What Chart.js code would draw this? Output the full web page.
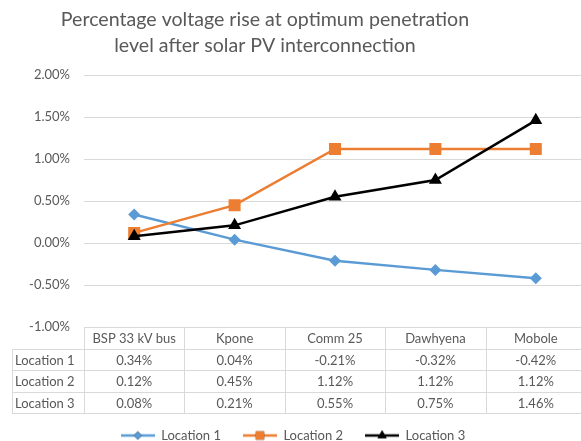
<!DOCTYPE html>
<html>
<head>
<meta charset="utf-8">
<script src="https://cdn.jsdelivr.net/npm/chart.js@4.4.0/dist/chart.umd.min.js"></script>
<style>
    html, body { margin: 0; padding: 0; background: #fff; overflow: hidden; }
    #wrap { width: 581px; height: 441px; overflow: hidden; position: relative; }
    #wrap canvas { position: absolute; left: 0; top: 0; }
</style>
</head>
<body>
<div id="wrap"><canvas id="myChart" width="600" height="452"></canvas></div>
<script>
// chart data
const titleLines = ['Percentage voltage rise at optimum penetration', 'level after solar PV interconnection'];
const locations = ['BSP 33 kV bus', 'Kpone', 'Comm 25', 'Dawhyena', 'Mobole'];
const seriesNames = ['Location 1', 'Location 2', 'Location 3'];
const location1 = [0.34, 0.04, -0.21, -0.32, -0.42];
const location2 = [0.12, 0.45, 1.12, 1.12, 1.12];
const location3 = [0.08, 0.21, 0.55, 0.75, 1.46];
const yTicks = [-1, -0.5, 0, 0.5, 1, 1.5, 2];

const textColor = '#595959';
const gridColor = '#D9D9D9';
const fontFamily = 'Lato, "Open Sans", sans-serif';
const colors = ['#5B9BD5', '#ED7D31', '#000000'];
const markers = ['rectRot', 'rect', 'triangle'];
const markerSizes = [6, 8.5, 7.5];

const pct = v => v.toFixed(2) + '%';

// title drawn by hand so it can sit left of centre like the original
const titlePlugin = {
    id: 'titleLines',
    beforeDraw(chart) {
        const ctx = chart.ctx;
        ctx.save();
        ctx.fillStyle = textColor;
        ctx.font = '19.6px ' + fontFamily;
        ctx.textAlign = 'center';
        ctx.textBaseline = 'middle';
        titleLines.forEach((line, i) => ctx.fillText(line, 265, 20 + i * 26));
        ctx.restore();
    }
};

// data table under the plot, columns follow the x scale
const tablePlugin = {
    id: 'dataTable',
    afterDraw(chart) {
        const ctx = chart.ctx;
        const x = chart.scales.x;
        const area = chart.chartArea;
        const band = (area.right - area.left) / locations.length;
        const rowH = 21.6;
        const top = area.bottom;
        const rows = [location1, location2, location3];
        const labelLeft = 12;

        ctx.save();
        ctx.strokeStyle = gridColor;
        ctx.lineWidth = 1;
        ctx.beginPath();
        // horizontal lines
        for (let r = 1; r <= rows.length + 1; r++) {
            const y = Math.round(top + r * rowH) + 0.5;
            ctx.moveTo(labelLeft, y);
            ctx.lineTo(area.right, y);
        }
        // vertical lines
        ctx.moveTo(labelLeft + 0.5, Math.round(top + rowH));
        ctx.lineTo(labelLeft + 0.5, Math.round(top + (rows.length + 1) * rowH) + 1);
        for (let c = 0; c <= locations.length; c++) {
            const vx = Math.round(area.left + c * band) + 0.5;
            ctx.moveTo(vx, Math.round(top));
            ctx.lineTo(vx, Math.round(top + (rows.length + 1) * rowH) + 1);
        }
        ctx.stroke();

        ctx.fillStyle = textColor;
        ctx.font = '13px ' + fontFamily;
        ctx.textBaseline = 'middle';
        ctx.textAlign = 'center';
        locations.forEach((name, i) => {
            ctx.fillText(name, x.getPixelForValue(i), top + rowH / 2 + 1);
        });
        rows.forEach((vals, r) => {
            const cy = top + (r + 1.5) * rowH + 1;
            ctx.textAlign = 'left';
            ctx.fillText(seriesNames[r], labelLeft + 3, cy);
            ctx.textAlign = 'center';
            vals.forEach((v, i) => ctx.fillText(pct(v), x.getPixelForValue(i), cy));
        });
        ctx.restore();
    }
};

// small line + marker picture for each legend entry
function legendIcon(i) {
    const c = document.createElement('canvas');
    c.width = 34;
    c.height = 16;
    const g = c.getContext('2d');
    g.strokeStyle = colors[i];
    g.lineWidth = 2.5;
    g.beginPath();
    g.moveTo(0, 8);
    g.lineTo(34, 8);
    g.stroke();
    Chart.helpers.drawPoint(g, { pointStyle: markers[i], radius: markerSizes[i] * 0.7, rotation: 0, borderWidth: 0 }, 17, 8);
    g.fillStyle = colors[i];
    g.fill();
    return c;
}

const datasets = [location1, location2, location3].map((vals, i) => ({
    label: seriesNames[i],
    data: vals,
    borderColor: colors[i],
    backgroundColor: colors[i],
    borderWidth: 2.5,
    tension: 0,
    pointStyle: markers[i],
    pointRadius: markerSizes[i],
    pointBackgroundColor: colors[i],
    pointBorderColor: colors[i],
    pointBorderWidth: 0,
    order: 3 - i
}));

const ctx = document.getElementById('myChart').getContext('2d');
window.myChart = new Chart(ctx, {
    type: 'line',
    data: {
        labels: locations,
        datasets: datasets
    },
    plugins: [titlePlugin, tablePlugin],
    options: {
        responsive: false,
        animation: false,
        devicePixelRatio: 1,
        layout: {
            padding: { top: 75, right: 14, left: 0, bottom: 0 }
        },
        plugins: {
            title: { display: false },
            tooltip: { enabled: false },
            legend: {
                position: 'bottom',
                labels: {
                    color: textColor,
                    font: { family: fontFamily, size: 13 },
                    usePointStyle: true,
                    pointStyleWidth: 34,
                    padding: 22,
                    generateLabels: function (chart) {
                        return chart.data.datasets.map((ds, i) => ({
                            text: ds.label,
                            pointStyle: legendIcon(i),
                            fillStyle: colors[i],
                            strokeStyle: colors[i],
                            lineWidth: 0,
                            fontColor: textColor,
                            hidden: false,
                            datasetIndex: i
                        }));
                    }
                }
            }
        },
        scales: {
            x: {
                type: 'category',
                offset: true,
                display: true,
                ticks: { display: false },
                grid: { display: false },
                border: { display: false },
                afterFit: function (scale) {
                    scale.height = 80;
                }
            },
            y: {
                min: -1,
                max: 2,
                afterBuildTicks: function (scale) {
                    scale.ticks = yTicks.map(v => ({ value: v }));
                },
                afterFit: function (scale) {
                    scale.width = 84;
                },
                ticks: {
                    color: textColor,
                    font: { family: fontFamily, size: 13 },
                    padding: 14,
                    callback: function (value) {
                        return pct(value);
                    }
                },
                grid: {
                    color: gridColor,
                    drawTicks: false
                },
                border: { display: false }
            }
        }
    }
});
</script>
</body>
</html>
